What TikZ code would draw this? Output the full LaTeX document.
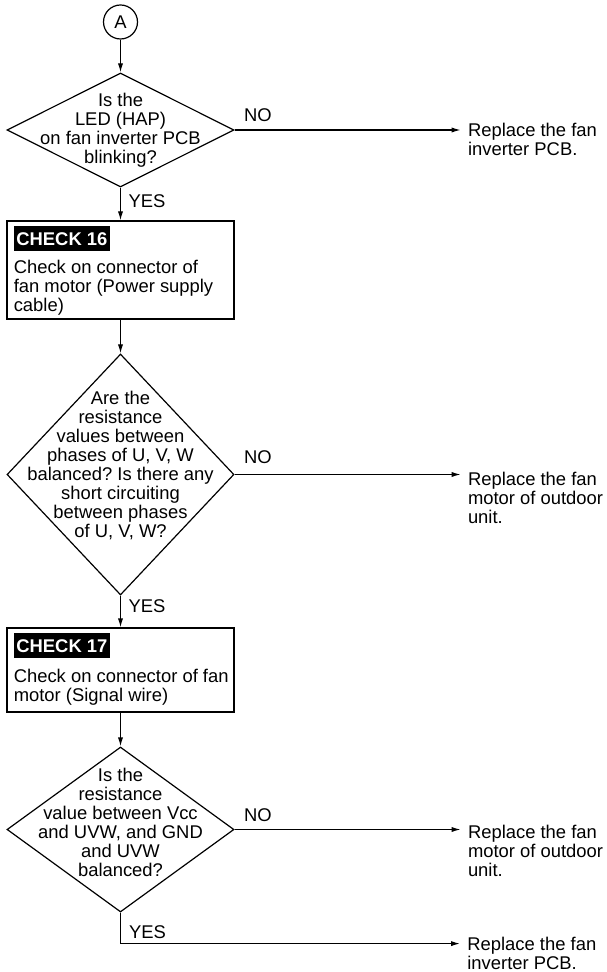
\documentclass[tikz,border=0pt]{standalone}
\usepackage{fontspec}
\setmainfont{Liberation Sans}
\frenchspacing
\usetikzlibrary{arrows.meta,positioning,shapes.geometric,calc}

\begin{document}
\begin{tikzpicture}[
  x=0.5pt, y=-0.5pt,
  >={Latex[length=4.5pt,width=2.6pt]},
  every node/.style={font=\fontsize{9.2}{9.5}\selectfont},
  flow/.style={->, line width=0.6pt},
  conn/.style={circle, draw, line width=0.6pt, minimum size=17pt, inner sep=0pt},
  decision/.style={diamond, draw, line width=0.6pt, minimum width=113.5pt, inner sep=0pt},
  ask/.style={align=center, inner sep=0pt},
  check/.style={rectangle, draw, line width=0.6pt, minimum width=113.5pt, inner sep=0pt},
  tag/.style={fill=black, text=white, font=\fontsize{9.2}{9.5}\selectfont\bfseries, inner xsep=1.3pt, inner ysep=0pt, text height=6.6pt, text depth=0pt, minimum height=12.8pt},
  note/.style={align=left, inner sep=0pt},
  action/.style={align=left, inner xsep=3.5pt, inner ysep=0pt},
  lab/.style={inner sep=0pt}
]
  \useasboundingbox (0,0) rectangle (606,972);

  \node[conn] (A) at (120.5,22) {A};

  \node[decision, minimum height=57pt] (q1) at (120.5,130) {};
  \node[ask] (q1txt) at (120.5,130) {Is the\\LED (HAP)\\on fan inverter PCB\\blinking?};
  \node[action, anchor=north west] (fix1) at ([shift={(226,-7)}]q1.east) {Replace the fan\\inverter PCB.};

  \node[check, minimum height=49pt] (c16) at (120.5,270) {};
  \node[tag, anchor=north west] (c16tag) at ([shift={(7,5)}]c16.north west) {CHECK 16};
  \node[note, anchor=north west] (c16txt) at ([shift={(7,39)}]c16.north west) {Check on connector of\\fan motor (Power supply\\cable)};

  \node[decision, minimum height=120.5pt] (q2) at (120.5,474.5) {};
  \node[ask] (q2txt) at (120.5,466) {Are the\\resistance\\values between\\phases of U, V, W\\balanced? Is there any\\short circuiting\\between phases\\of U, V, W?};
  \node[action, anchor=north west] (fix2) at ([shift={(226,-3)}]q2.east) {Replace the fan\\motor of outdoor\\unit.};

  \node[check, minimum height=42pt] (c17) at (120.5,670) {};
  \node[tag, anchor=north west] (c17tag) at ([shift={(7,5)}]c17.north west) {CHECK 17};
  \node[note, anchor=north west] (c17txt) at ([shift={(7,41)}]c17.north west) {Check on connector of fan\\motor (Signal wire)};

  \node[decision, minimum height=82.5pt] (q3) at (120.5,829.5) {};
  \node[ask] (q3txt) at (120.5,822.5) {Is the\\resistance\\value between Vcc\\and UVW, and GND\\and UVW\\balanced?};
  \node[action, anchor=north west] (fix3) at ([shift={(226,-5)}]q3.east) {Replace the fan\\motor of outdoor\\unit.};
  \node[action, anchor=north west] (fix4) at ([shift={(339.5,24)}]q3.south) {Replace the fan\\inverter PCB.};

  \draw[flow] (A) -- (q1);
  \draw[flow] (q1.east) -- node[lab, pos=0, anchor=south west, xshift=4.5pt, yshift=3.7pt] {NO} (q1.east -| fix1.west);
  \draw[flow] (q1.south) -- node[lab, pos=0, anchor=north west, xshift=3.75pt, yshift=-3pt] {YES} (c16.north);
  \draw[flow] (c16.south) -- (q2.north);
  \draw[flow] (q2.east) -- node[lab, pos=0, anchor=south west, xshift=4.5pt, yshift=5pt] {NO} (q2.east -| fix2.west);
  \draw[flow] (q2.south) -- node[lab, pos=0, anchor=north west, xshift=3.75pt, yshift=-1.5pt] {YES} (c17.north);
  \draw[flow] (c17.south) -- (q3.north);
  \draw[flow] (q3.east) -- node[lab, pos=0, anchor=south west, xshift=4.5pt, yshift=3.7pt] {NO} (q3.east -| fix3.west);
  \draw[flow] (q3.south) |- node[lab, pos=0, anchor=north west, xshift=4pt, yshift=-6pt] {YES} ([yshift=-3.5pt]fix4.north west);
\end{tikzpicture}
\end{document}
